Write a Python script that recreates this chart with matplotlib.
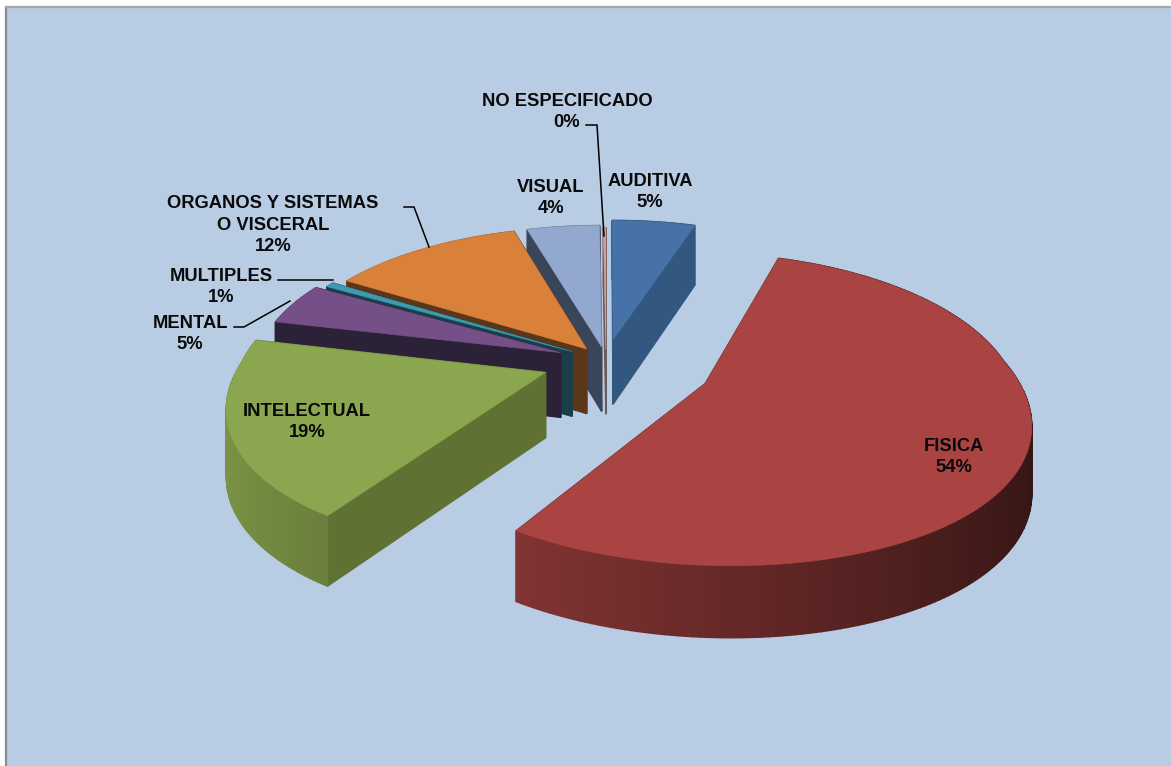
import matplotlib
matplotlib.use("Agg")
import matplotlib.pyplot as plt
import numpy as np
from matplotlib.patches import Polygon, Rectangle

names = ["AUDITIVA", "FISICA", "INTELECTUAL", "MENTAL", "MULTIPLES",
         "ORGANOS Y SISTEMAS\nO VISCERAL", "VISUAL", "NO ESPECIFICADO"]
values = [5.0, 54.3, 19.3, 4.6, 0.55, 11.75, 4.35, 0.15]

# style of every slice, same order as names
explode = [0.15, 0.35, 0.21, 0.16, 0.13, 0.105, 0.10, 0.08]
top_colors = ["#4672A8", "#A94442", "#8AA64E", "#755088", "#3E9AB0", "#D9813A", "#93A8CF", "#D9A0A0"]
cut_colors = ["#33587F", "#6B2B29", "#5F7133", "#2C2238", "#1B3F4A", "#5C3618", "#3B4559", "#6B5A5A"]
label_xy = [(650, 192), (954, 457), (307, 422), (190, 334), (221, 287), (273, 225), (551, 198), (567, 112)]

leaders = [([586, 597, 604], [125, 125, 236]),
           ([404, 414, 429], [207, 207, 247]),
           ([278, 333], [280, 280]),
           ([234, 244, 290], [327, 327, 301])]

CX, CY, RX, RY, KY, DEPTH = 606, 361, 305, 145, 0.16, 65
KX_BACK, KX_FRONT = 0.13, 0.2


def project(u, v, down=False):
    wx = 1 + (KX_BACK if v > 0 else KX_FRONT) * v
    wy = 1 + KY * v
    x = CX + RX * u / wx
    y = CY - RY * v / wy
    if down:
        y = y + DEPTH * wy ** -0.5
    return x, y


def shade(color, f):
    return tuple(np.array(matplotlib.colors.to_rgb(color)) * f)


def draw_slice(ax, start, end, off, top, cut):
    angles = np.radians(np.linspace(start, end, max(int(end - start) + 2, 3)))
    mid = np.radians((start + end) / 2)
    u0, v0 = off * np.sin(mid), off * np.cos(mid)
    us = u0 + np.sin(angles)
    vs = v0 + np.cos(angles)

    faces = []
    # the two cut faces
    for i, col in [(0, cut), (-1, cut)]:
        pts = [project(u0, v0), project(us[i], vs[i]), project(us[i], vs[i], True), project(u0, v0, True)]
        faces.append(((v0 + vs[i]) / 2, pts, col))
    # outer rim, darker to the right
    for a in range(len(us) - 1):
        pts = [project(us[a], vs[a]), project(us[a + 1], vs[a + 1]),
               project(us[a + 1], vs[a + 1], True), project(us[a], vs[a], True)]
        um = np.sin((angles[a] + angles[a + 1]) / 2)
        faces.append(((vs[a] + vs[a + 1]) / 2, pts, shade(top, 0.6 - 0.3 * um)))
    faces.sort(key=lambda f: -f[0])
    for _, pts, col in faces:
        ax.add_patch(Polygon(pts, closed=True, facecolor=col, edgecolor=col, linewidth=1.0))

    outline = [project(u0, v0)] + [project(a, b) for a, b in zip(us, vs)]
    ax.add_patch(Polygon(outline, closed=True, facecolor=top, edgecolor=top, linewidth=0.4))


fig = plt.figure(figsize=(11.71, 7.66), dpi=100)
ax = fig.add_axes([0, 0, 1, 1])
ax.set_xlim(0, 1171)
ax.set_ylim(766, 0)
ax.axis("off")

ax.add_patch(Rectangle((6, 7), 1170, 765, facecolor="#B8CCE4", edgecolor="none"))
ax.plot([6, 6], [7, 766], color="#8C8C8C", lw=1.6)
ax.plot([6, 1171], [7, 7], color="#A6A6A6", lw=1.6)

fracs = np.array(values) / sum(values) * 360
ends = np.cumsum(fracs)
starts = ends - fracs

# back slices first, front ones last
order = [6, 7, 0, 5, 4, 3, 2, 1]
for i in order:
    draw_slice(ax, starts[i], ends[i], explode[i], top_colors[i], cut_colors[i])

for xs, ys in leaders:
    ax.plot(xs, ys, color="black", lw=1.1, solid_joinstyle="miter")

for name, val, (x, y) in zip(names, values, label_xy):
    ax.text(x, y, "%s\n%d%%" % (name, round(val)), ha="center", va="center",
            family="Liberation Sans", weight="bold", fontsize=13.2, color="#0A0A0A",
            linespacing=1.33)

fig.savefig("out.png", dpi=100)
